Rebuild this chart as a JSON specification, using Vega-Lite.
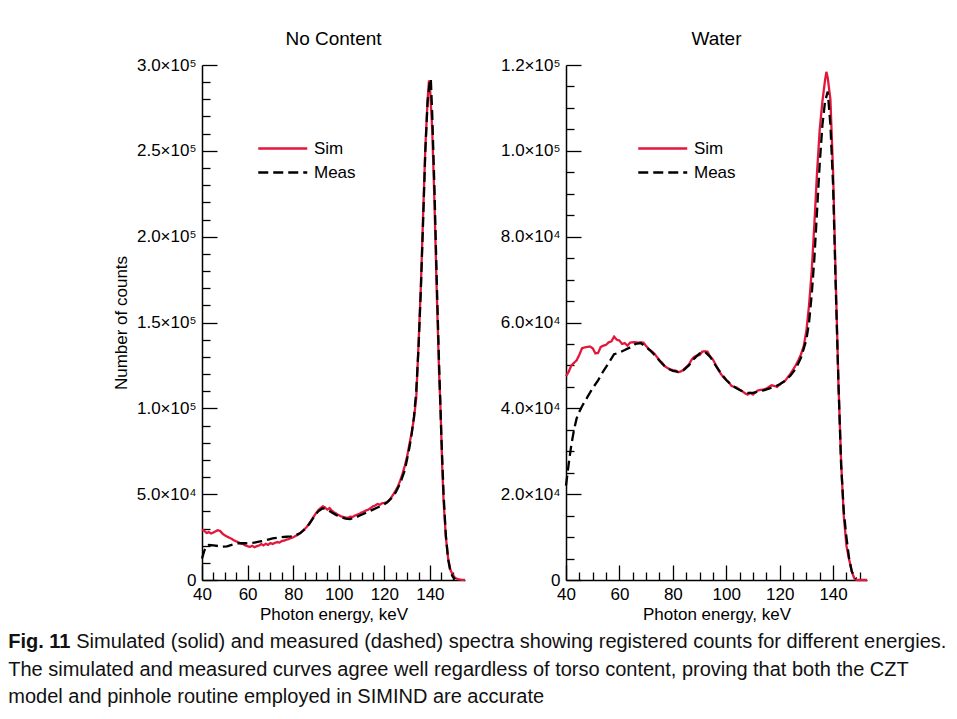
{
"$schema": "https://vega.github.io/schema/vega-lite/v6.json",
"padding": {"left": 8, "top": 30, "right": 5, "bottom": 5},
"title": {"text": ["The simulated and measured curves agree well regardless of torso content, proving that both the CZT", "model and pinhole routine employed in SIMIND are accurate"], "orient": "bottom", "anchor": "start", "font": "Liberation Sans", "fontSize": 20, "fontWeight": "normal", "lineHeight": 27, "offset": 8, "color": "#111"},
"datasets": {
"L": [
{"s":"Sim","e":40,"v":29500},{"s":"Sim","e":41,"v":28600},{"s":"Sim","e":42,"v":27400},{"s":"Sim","e":43,"v":27900},{"s":"Sim","e":44,"v":27100},{"s":"Sim","e":45,"v":27700},{"s":"Sim","e":46,"v":28400},{"s":"Sim","e":47,"v":29000},{"s":"Sim","e":48,"v":28500},{"s":"Sim","e":49,"v":27000},{"s":"Sim","e":50,"v":26000},{"s":"Sim","e":51,"v":25300},{"s":"Sim","e":52,"v":24600},{"s":"Sim","e":53,"v":24000},{"s":"Sim","e":54,"v":23100},{"s":"Sim","e":55,"v":22500},{"s":"Sim","e":56,"v":22000},{"s":"Sim","e":57,"v":21300},{"s":"Sim","e":58,"v":21000},{"s":"Sim","e":59,"v":20100},{"s":"Sim","e":60,"v":19700},{"s":"Sim","e":61,"v":19300},{"s":"Sim","e":62,"v":19900},{"s":"Sim","e":63,"v":19100},{"s":"Sim","e":64,"v":19700},{"s":"Sim","e":65,"v":20100},{"s":"Sim","e":66,"v":20900},{"s":"Sim","e":67,"v":20200},{"s":"Sim","e":68,"v":21100},{"s":"Sim","e":69,"v":20500},{"s":"Sim","e":70,"v":21500},{"s":"Sim","e":71,"v":21000},{"s":"Sim","e":72,"v":21700},{"s":"Sim","e":73,"v":22100},{"s":"Sim","e":74,"v":21800},{"s":"Sim","e":75,"v":22700},{"s":"Sim","e":76,"v":22900},{"s":"Sim","e":77,"v":23500},{"s":"Sim","e":78,"v":23800},{"s":"Sim","e":79,"v":24400},{"s":"Sim","e":80,"v":24900},{"s":"Sim","e":81,"v":25600},{"s":"Sim","e":82,"v":26300},{"s":"Sim","e":83,"v":27300},{"s":"Sim","e":84,"v":28300},{"s":"Sim","e":85,"v":29600},{"s":"Sim","e":86,"v":31000},{"s":"Sim","e":87,"v":32800},{"s":"Sim","e":88,"v":34800},{"s":"Sim","e":89,"v":36900},{"s":"Sim","e":90,"v":38900},{"s":"Sim","e":91,"v":40600},{"s":"Sim","e":92,"v":41900},{"s":"Sim","e":93,"v":42900},{"s":"Sim","e":94,"v":42200},{"s":"Sim","e":95,"v":41000},{"s":"Sim","e":96,"v":41900},{"s":"Sim","e":97,"v":40400},{"s":"Sim","e":98,"v":39400},{"s":"Sim","e":99,"v":38600},{"s":"Sim","e":100,"v":37800},{"s":"Sim","e":101,"v":37100},{"s":"Sim","e":102,"v":36800},{"s":"Sim","e":103,"v":36400},{"s":"Sim","e":104,"v":36200},{"s":"Sim","e":105,"v":36900},{"s":"Sim","e":106,"v":36700},{"s":"Sim","e":107,"v":37500},{"s":"Sim","e":108,"v":38000},{"s":"Sim","e":109,"v":38500},{"s":"Sim","e":110,"v":39300},{"s":"Sim","e":111,"v":39800},{"s":"Sim","e":112,"v":40600},{"s":"Sim","e":113,"v":41000},{"s":"Sim","e":114,"v":41900},{"s":"Sim","e":115,"v":42900},{"s":"Sim","e":116,"v":43400},{"s":"Sim","e":117,"v":44300},{"s":"Sim","e":118,"v":43800},{"s":"Sim","e":119,"v":44700},{"s":"Sim","e":120,"v":44900},{"s":"Sim","e":121,"v":45300},{"s":"Sim","e":122,"v":46100},{"s":"Sim","e":123,"v":48000},{"s":"Sim","e":124,"v":50000},{"s":"Sim","e":125,"v":52200},{"s":"Sim","e":126,"v":54600},{"s":"Sim","e":127,"v":58000},{"s":"Sim","e":128,"v":62000},{"s":"Sim","e":129,"v":66500},{"s":"Sim","e":130,"v":72000},{"s":"Sim","e":131,"v":79000},{"s":"Sim","e":132,"v":86000},{"s":"Sim","e":133,"v":94000},{"s":"Sim","e":134,"v":106000},{"s":"Sim","e":135,"v":137000},{"s":"Sim","e":136,"v":170000},{"s":"Sim","e":137,"v":212000},{"s":"Sim","e":138,"v":252000},{"s":"Sim","e":139,"v":280000},{"s":"Sim","e":139.6,"v":291000},{"s":"Sim","e":140,"v":288000},{"s":"Sim","e":141,"v":263000},{"s":"Sim","e":142,"v":220000},{"s":"Sim","e":143,"v":168000},{"s":"Sim","e":144,"v":122000},{"s":"Sim","e":144.7,"v":98000},{"s":"Sim","e":145.4,"v":66000},{"s":"Sim","e":146,"v":46000},{"s":"Sim","e":147,"v":25000},{"s":"Sim","e":148,"v":12500},{"s":"Sim","e":149,"v":6000},{"s":"Sim","e":150,"v":3000},{"s":"Sim","e":151,"v":1300},{"s":"Sim","e":152,"v":600},{"s":"Sim","e":153,"v":300},{"s":"Sim","e":154,"v":100},{"s":"Sim","e":155.4,"v":0},
{"s":"Meas","e":40,"v":12500},{"s":"Meas","e":41,"v":17000},{"s":"Meas","e":42,"v":19800},{"s":"Meas","e":43,"v":20400},{"s":"Meas","e":45,"v":20200},{"s":"Meas","e":47,"v":19800},{"s":"Meas","e":49,"v":19400},{"s":"Meas","e":51,"v":19600},{"s":"Meas","e":53,"v":20500},{"s":"Meas","e":55,"v":21300},{"s":"Meas","e":57,"v":21500},{"s":"Meas","e":59,"v":21400},{"s":"Meas","e":61,"v":21300},{"s":"Meas","e":63,"v":21800},{"s":"Meas","e":65,"v":22300},{"s":"Meas","e":67,"v":22800},{"s":"Meas","e":69,"v":23500},{"s":"Meas","e":71,"v":24200},{"s":"Meas","e":73,"v":24600},{"s":"Meas","e":75,"v":25000},{"s":"Meas","e":77,"v":25200},{"s":"Meas","e":79,"v":25400},{"s":"Meas","e":81,"v":26000},{"s":"Meas","e":83,"v":27200},{"s":"Meas","e":85,"v":29500},{"s":"Meas","e":87,"v":32500},{"s":"Meas","e":89,"v":36500},{"s":"Meas","e":91,"v":40000},{"s":"Meas","e":93,"v":41800},{"s":"Meas","e":95,"v":41000},{"s":"Meas","e":97,"v":39300},{"s":"Meas","e":99,"v":37800},{"s":"Meas","e":101,"v":36600},{"s":"Meas","e":103,"v":35800},{"s":"Meas","e":105,"v":35500},{"s":"Meas","e":107,"v":36200},{"s":"Meas","e":109,"v":37400},{"s":"Meas","e":111,"v":38600},{"s":"Meas","e":113,"v":39800},{"s":"Meas","e":115,"v":41000},{"s":"Meas","e":117,"v":42200},{"s":"Meas","e":119,"v":43400},{"s":"Meas","e":121,"v":45000},{"s":"Meas","e":123,"v":47500},{"s":"Meas","e":125,"v":51000},{"s":"Meas","e":127,"v":56500},{"s":"Meas","e":129,"v":64000},{"s":"Meas","e":131,"v":77000},{"s":"Meas","e":132,"v":85000},{"s":"Meas","e":133,"v":95000},{"s":"Meas","e":134,"v":110000},{"s":"Meas","e":135,"v":135000},{"s":"Meas","e":136,"v":168000},{"s":"Meas","e":137,"v":208000},{"s":"Meas","e":138,"v":250000},{"s":"Meas","e":139,"v":279000},{"s":"Meas","e":140,"v":291000},{"s":"Meas","e":140.4,"v":292000},{"s":"Meas","e":141,"v":272000},{"s":"Meas","e":142,"v":228000},{"s":"Meas","e":143,"v":175000},{"s":"Meas","e":144,"v":127000},{"s":"Meas","e":145,"v":85000},{"s":"Meas","e":146,"v":50000},{"s":"Meas","e":147,"v":26000},{"s":"Meas","e":148,"v":12000},{"s":"Meas","e":149,"v":5000},{"s":"Meas","e":150,"v":2000},{"s":"Meas","e":151,"v":500}
],
"R": [
{"s":"Sim","e":40,"v":47500},{"s":"Sim","e":41,"v":48500},{"s":"Sim","e":42,"v":50000},{"s":"Sim","e":43,"v":50600},{"s":"Sim","e":44,"v":51200},{"s":"Sim","e":45,"v":52500},{"s":"Sim","e":46,"v":54000},{"s":"Sim","e":47,"v":54200},{"s":"Sim","e":48,"v":54300},{"s":"Sim","e":49,"v":54400},{"s":"Sim","e":50,"v":54000},{"s":"Sim","e":51,"v":52800},{"s":"Sim","e":52,"v":52900},{"s":"Sim","e":53,"v":54300},{"s":"Sim","e":54,"v":54600},{"s":"Sim","e":55,"v":54800},{"s":"Sim","e":56,"v":55400},{"s":"Sim","e":57,"v":55600},{"s":"Sim","e":58,"v":56700},{"s":"Sim","e":59,"v":56000},{"s":"Sim","e":60,"v":55800},{"s":"Sim","e":61,"v":55000},{"s":"Sim","e":62,"v":55200},{"s":"Sim","e":63,"v":54600},{"s":"Sim","e":64,"v":55300},{"s":"Sim","e":65,"v":55400},{"s":"Sim","e":66,"v":55400},{"s":"Sim","e":67,"v":55300},{"s":"Sim","e":68,"v":55400},{"s":"Sim","e":69,"v":55300},{"s":"Sim","e":70,"v":54500},{"s":"Sim","e":71,"v":53800},{"s":"Sim","e":72,"v":53300},{"s":"Sim","e":73,"v":52800},{"s":"Sim","e":74,"v":52000},{"s":"Sim","e":75,"v":51200},{"s":"Sim","e":76,"v":50600},{"s":"Sim","e":77,"v":49800},{"s":"Sim","e":78,"v":49400},{"s":"Sim","e":79,"v":49100},{"s":"Sim","e":80,"v":48900},{"s":"Sim","e":81,"v":48800},{"s":"Sim","e":82,"v":48400},{"s":"Sim","e":83,"v":48600},{"s":"Sim","e":84,"v":49000},{"s":"Sim","e":85,"v":49600},{"s":"Sim","e":86,"v":50200},{"s":"Sim","e":87,"v":51300},{"s":"Sim","e":88,"v":52000},{"s":"Sim","e":89,"v":52300},{"s":"Sim","e":90,"v":52400},{"s":"Sim","e":91,"v":53200},{"s":"Sim","e":92,"v":53300},{"s":"Sim","e":93,"v":53200},{"s":"Sim","e":94,"v":52000},{"s":"Sim","e":95,"v":51400},{"s":"Sim","e":96,"v":50200},{"s":"Sim","e":97,"v":49000},{"s":"Sim","e":98,"v":48000},{"s":"Sim","e":99,"v":47200},{"s":"Sim","e":100,"v":46600},{"s":"Sim","e":101,"v":46000},{"s":"Sim","e":102,"v":45200},{"s":"Sim","e":103,"v":45000},{"s":"Sim","e":104,"v":44800},{"s":"Sim","e":105,"v":44300},{"s":"Sim","e":106,"v":44000},{"s":"Sim","e":107,"v":43500},{"s":"Sim","e":108,"v":43200},{"s":"Sim","e":109,"v":43600},{"s":"Sim","e":110,"v":43200},{"s":"Sim","e":111,"v":43800},{"s":"Sim","e":112,"v":44200},{"s":"Sim","e":113,"v":44300},{"s":"Sim","e":114,"v":44400},{"s":"Sim","e":115,"v":44600},{"s":"Sim","e":116,"v":45000},{"s":"Sim","e":117,"v":45400},{"s":"Sim","e":118,"v":45200},{"s":"Sim","e":119,"v":45000},{"s":"Sim","e":120,"v":45500},{"s":"Sim","e":121,"v":46000},{"s":"Sim","e":122,"v":46400},{"s":"Sim","e":123,"v":47200},{"s":"Sim","e":124,"v":48000},{"s":"Sim","e":125,"v":49000},{"s":"Sim","e":126,"v":50000},{"s":"Sim","e":127,"v":51200},{"s":"Sim","e":128,"v":52600},{"s":"Sim","e":129,"v":54500},{"s":"Sim","e":130,"v":58000},{"s":"Sim","e":131,"v":64000},{"s":"Sim","e":132,"v":72000},{"s":"Sim","e":133,"v":83000},{"s":"Sim","e":134,"v":95000},{"s":"Sim","e":135,"v":105000},{"s":"Sim","e":136,"v":111500},{"s":"Sim","e":137,"v":116500},{"s":"Sim","e":137.5,"v":118400},{"s":"Sim","e":138,"v":117000},{"s":"Sim","e":139,"v":112000},{"s":"Sim","e":140,"v":95000},{"s":"Sim","e":141,"v":70000},{"s":"Sim","e":142,"v":46000},{"s":"Sim","e":143,"v":27600},{"s":"Sim","e":144,"v":15000},{"s":"Sim","e":145,"v":8000},{"s":"Sim","e":146,"v":4800},{"s":"Sim","e":147,"v":2000},{"s":"Sim","e":148,"v":300},{"s":"Sim","e":149,"v":0},{"s":"Sim","e":152.7,"v":0},
{"s":"Meas","e":40,"v":22000},{"s":"Meas","e":41,"v":27000},{"s":"Meas","e":42,"v":31500},{"s":"Meas","e":43,"v":35000},{"s":"Meas","e":44,"v":37700},{"s":"Meas","e":45,"v":39200},{"s":"Meas","e":46,"v":40500},{"s":"Meas","e":48,"v":42600},{"s":"Meas","e":50,"v":44700},{"s":"Meas","e":52,"v":46500},{"s":"Meas","e":54,"v":48700},{"s":"Meas","e":56,"v":50600},{"s":"Meas","e":58,"v":52600},{"s":"Meas","e":60,"v":53000},{"s":"Meas","e":62,"v":53600},{"s":"Meas","e":64,"v":54200},{"s":"Meas","e":66,"v":55000},{"s":"Meas","e":68,"v":55200},{"s":"Meas","e":70,"v":54300},{"s":"Meas","e":72,"v":53200},{"s":"Meas","e":74,"v":51800},{"s":"Meas","e":76,"v":50400},{"s":"Meas","e":78,"v":49300},{"s":"Meas","e":80,"v":48700},{"s":"Meas","e":82,"v":48500},{"s":"Meas","e":84,"v":48900},{"s":"Meas","e":86,"v":50000},{"s":"Meas","e":88,"v":51600},{"s":"Meas","e":90,"v":52800},{"s":"Meas","e":92,"v":53200},{"s":"Meas","e":94,"v":52000},{"s":"Meas","e":96,"v":50000},{"s":"Meas","e":98,"v":48200},{"s":"Meas","e":100,"v":46600},{"s":"Meas","e":102,"v":45400},{"s":"Meas","e":104,"v":44600},{"s":"Meas","e":106,"v":44000},{"s":"Meas","e":108,"v":43600},{"s":"Meas","e":110,"v":43600},{"s":"Meas","e":112,"v":43900},{"s":"Meas","e":114,"v":44200},{"s":"Meas","e":116,"v":44600},{"s":"Meas","e":118,"v":45000},{"s":"Meas","e":120,"v":45600},{"s":"Meas","e":122,"v":46400},{"s":"Meas","e":124,"v":47600},{"s":"Meas","e":126,"v":49200},{"s":"Meas","e":128,"v":51800},{"s":"Meas","e":130,"v":56000},{"s":"Meas","e":131,"v":60000},{"s":"Meas","e":132,"v":66500},{"s":"Meas","e":133,"v":75000},{"s":"Meas","e":134,"v":86000},{"s":"Meas","e":135,"v":97000},{"s":"Meas","e":136,"v":106000},{"s":"Meas","e":137,"v":111500},{"s":"Meas","e":138,"v":113800},{"s":"Meas","e":139,"v":106000},{"s":"Meas","e":140,"v":92000},{"s":"Meas","e":141,"v":68000},{"s":"Meas","e":142,"v":46000},{"s":"Meas","e":143,"v":27000},{"s":"Meas","e":144,"v":16000},{"s":"Meas","e":145,"v":10000},{"s":"Meas","e":146,"v":5000},{"s":"Meas","e":147,"v":2000},{"s":"Meas","e":148,"v":800},{"s":"Meas","e":148.7,"v":300}
]
},
"vconcat": [{
 "title": {"text": "Simulated (solid) and measured (dashed) spectra showing registered counts for different energies.", "orient": "bottom", "anchor": "start", "font": "Liberation Sans", "fontSize": 20, "fontWeight": "normal", "dx": 68, "dy": -20, "offset": 0, "color": "#111"},
 "vconcat": [{
  "title": {"text": "Fig. 11", "orient": "bottom", "anchor": "start", "font": "Liberation Sans", "fontSize": 20, "fontWeight": "bold", "dx": -104, "offset": 10, "color": "#111"},
  "spacing": 30,
  "resolve": {"scale": {"color": "independent", "strokeDash": "independent", "x": "independent", "y": "independent"}, "legend": {"color": "independent", "strokeDash": "independent"}},
  "hconcat": [
   {
    "data": {"name": "L"},
    "width": 263, "height": 515,
    "title": {"text": "No Content", "offset": 7},
    "mark": {"type": "line", "strokeWidth": 2.3},
    "encoding": {
     "x": {"field": "e", "type": "quantitative", "scale": {"domain": [40, 155.4], "nice": false, "zero": false},
       "axis": {"title": "Photon energy, keV", "values": [40,45,50,55,60,65,70,75,80,85,90,95,100,105,110,115,120,125,130,135,140,145,150], "labelExpr": "datum.value % 20 === 0 ? datum.label : ''", "tickSize": {"condition": {"test": "datum.value % 20 === 0", "value": -15}, "value": -8}, "labelPadding": 21, "titlePadding": 4, "labelFlush": false}},
     "y": {"field": "v", "type": "quantitative", "scale": {"domain": [0, 300000], "nice": false},
       "axis": {"title": "Number of counts", "values": [0,10000,20000,30000,40000,50000,60000,70000,80000,90000,100000,110000,120000,130000,140000,150000,160000,170000,180000,190000,200000,210000,220000,230000,240000,250000,260000,270000,280000,290000,300000], "labelExpr": "datum.value === 0 ? '0' : (datum.value % 50000 !== 0 ? '' : (datum.value >= 100000 ? format(datum.value / 100000, '.1f') + '×10⁵' : format(datum.value / 10000, '.1f') + '×10⁴'))", "tickSize": {"condition": {"test": "datum.value % 50000 === 0", "value": -15}, "value": -8}, "labelPadding": 21, "titlePadding": 6, "labelFlush": false}},
     "color": {"field": "s", "type": "nominal", "scale": {"domain": ["Sim", "Meas"], "range": ["#e2173b", "#000000"]}, "legend": {"orient": "none", "legendX": 55, "legendY": 70, "title": null}},
     "strokeDash": {"field": "s", "type": "nominal", "scale": {"domain": ["Sim", "Meas"], "range": [[1, 0], [10, 5]]}, "legend": {"orient": "none", "legendX": 55, "legendY": 70, "title": null}}
    }
   },
   {
    "data": {"name": "R"},
    "width": 301, "height": 515,
    "title": {"text": "Water", "offset": 7},
    "mark": {"type": "line", "strokeWidth": 2.3},
    "encoding": {
     "x": {"field": "e", "type": "quantitative", "scale": {"domain": [40, 152.7], "nice": false, "zero": false},
       "axis": {"title": "Photon energy, keV", "values": [40,45,50,55,60,65,70,75,80,85,90,95,100,105,110,115,120,125,130,135,140,145,150], "labelExpr": "datum.value % 20 === 0 ? datum.label : ''", "tickSize": {"condition": {"test": "datum.value % 20 === 0", "value": -15}, "value": -8}, "labelPadding": 21, "titlePadding": 4, "labelFlush": false}},
     "y": {"field": "v", "type": "quantitative", "scale": {"domain": [0, 120000], "nice": false},
       "axis": {"title": null, "values": [0,5000,10000,15000,20000,25000,30000,35000,40000,45000,50000,55000,60000,65000,70000,75000,80000,85000,90000,95000,100000,105000,110000,115000,120000], "labelExpr": "datum.value === 0 ? '0' : (datum.value % 20000 !== 0 ? '' : (datum.value >= 100000 ? format(datum.value / 100000, '.1f') + '×10⁵' : format(datum.value / 10000, '.1f') + '×10⁴'))", "tickSize": {"condition": {"test": "datum.value % 20000 === 0", "value": -15}, "value": -8}, "labelPadding": 21, "labelFlush": false}},
     "color": {"field": "s", "type": "nominal", "scale": {"domain": ["Sim", "Meas"], "range": ["#e2173b", "#000000"]}, "legend": {"orient": "none", "legendX": 71, "legendY": 70, "title": null}},
     "strokeDash": {"field": "s", "type": "nominal", "scale": {"domain": ["Sim", "Meas"], "range": [[1, 0], [10, 5]]}, "legend": {"orient": "none", "legendX": 71, "legendY": 70, "title": null}}
    }
   }
  ]
 }]
}],
"config": {
 "font": "Liberation Sans",
 "view": {"stroke": null},
 "axis": {"domainColor": "#000", "domainWidth": 1.5, "tickColor": "#000", "tickWidth": 1.3, "labelColor": "#000", "labelFontSize": 17, "labelFont": "Liberation Sans", "titleFont": "Liberation Sans", "titleFontSize": 17, "titleFontWeight": "normal", "titleColor": "#000", "grid": false},
 "title": {"fontSize": 19, "fontWeight": "normal", "color": "#000", "font": "Liberation Sans"},
 "legend": {"symbolType": "M-1,0H3", "symbolSize": 600, "symbolStrokeWidth": 2.5, "labelFontSize": 17, "labelFont": "Liberation Sans", "labelColor": "#000", "labelOffset": 30, "rowPadding": 2}
}
}
